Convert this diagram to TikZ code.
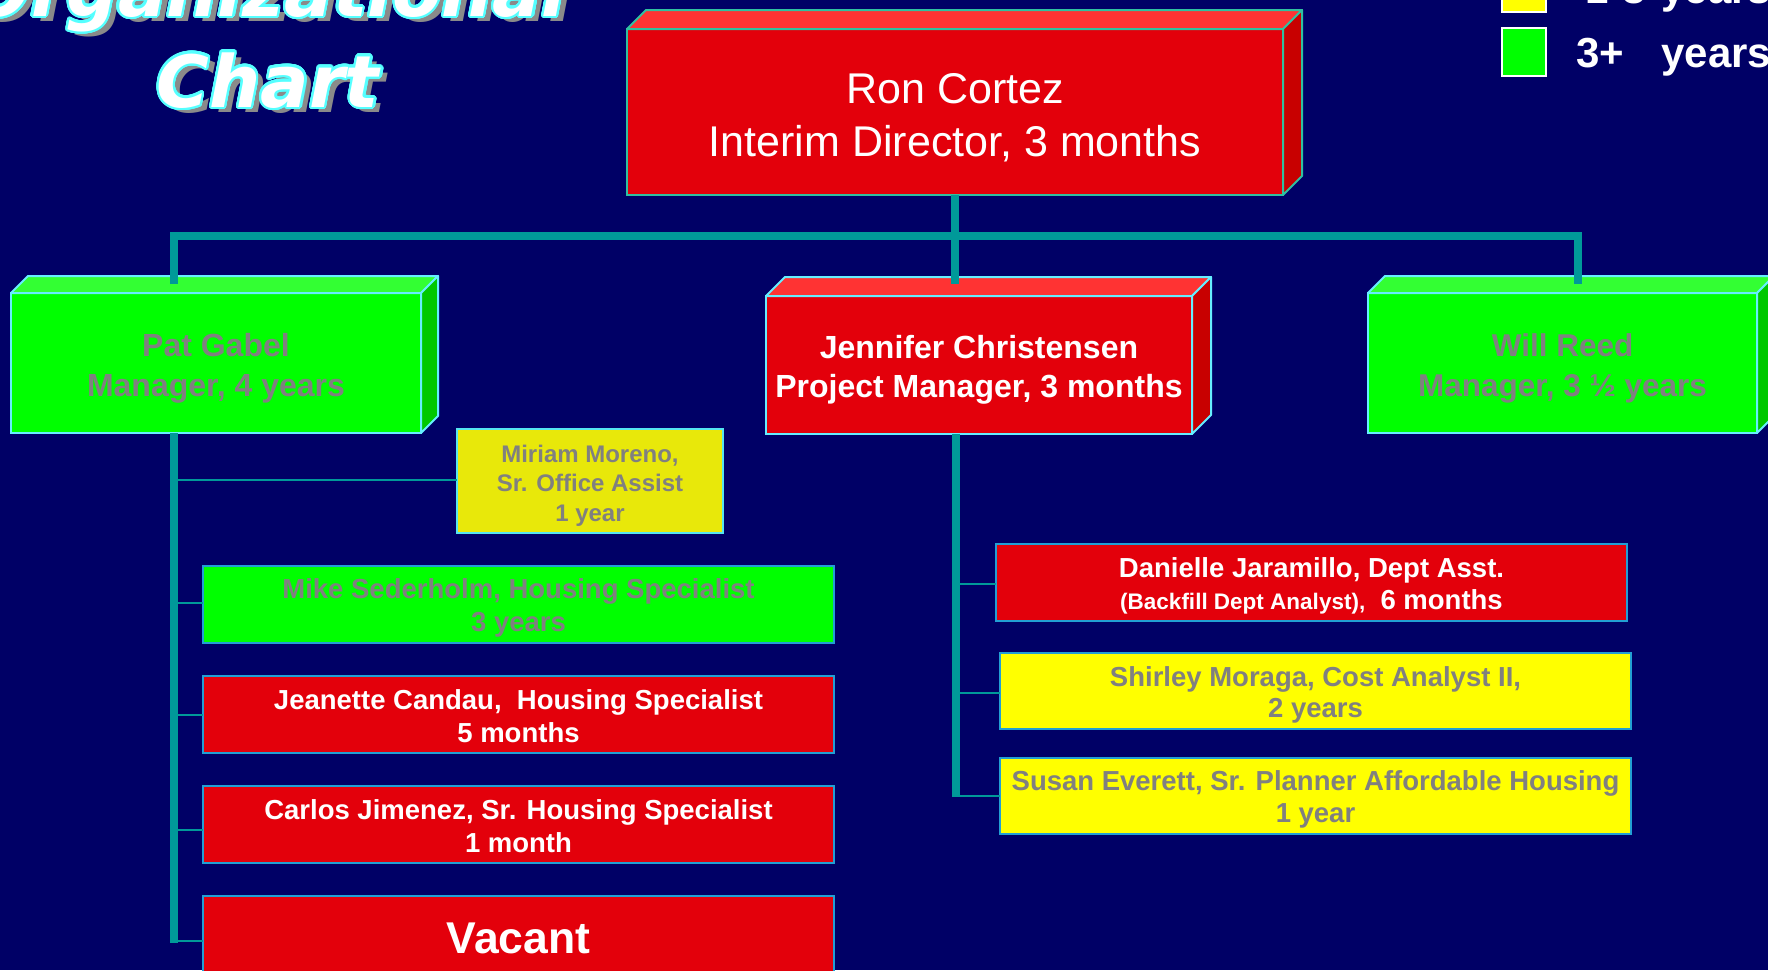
\documentclass[tikz,border=0pt]{standalone}
\usepackage{fontspec}
\setmainfont{Liberation Sans}
\newfontfamily\titlefont{DejaVu Sans}
\usepackage{contour}
\contourlength{2.2pt}
\contournumber{32}
\usetikzlibrary{calc}
\definecolor{bg}{HTML}{000066}
\definecolor{teal2}{HTML}{009999}
\definecolor{redfront}{HTML}{E3000B}
\definecolor{redtop}{HTML}{FF3333}
\definecolor{redside}{HTML}{C80000}
\definecolor{grnfront}{HTML}{00FF00}
\definecolor{grntop}{HTML}{33FF33}
\definecolor{grnside}{HTML}{00C800}
\definecolor{yelfront}{HTML}{FFFF00}
\definecolor{miryel}{HTML}{E8E80A}
\definecolor{ronborder}{HTML}{30C0A0}
\definecolor{cubeborder}{HTML}{66EEFF}
\definecolor{flatborder}{HTML}{229FD4}
\definecolor{mirborder}{HTML}{55E5F0}
\definecolor{greytext}{HTML}{808080}
\definecolor{titlecyan}{HTML}{55FFFF}
\definecolor{shadowgrey}{HTML}{8A8A8A}
\newcommand\fs[2]{\fontsize{#1}{#2}\selectfont}
\newcommand\cubefaces[5]{%
  \filldraw[fill=#2, draw=#4, line width=2pt, line join=round]
    (#1.north west) -- ++(#5,-#5) -- ($(#1.north east)+(#5,-#5)$) -- (#1.north east) -- cycle;
  \filldraw[fill=#3, draw=#4, line width=2pt, line join=round]
    (#1.north east) -- ++(#5,-#5) -- ($(#1.south east)+(#5,-#5)$) -- (#1.south east) -- cycle;
}
\tikzset{
  facebox/.style={rectangle, inner sep=0pt, outer sep=0pt, line width=2pt},
  flatbox/.style={rectangle, inner sep=0pt, outer sep=0pt, line width=2.5pt,
    draw=flatborder, minimum width=631, minimum height=77},
  lbl/.style={inner sep=0pt, align=center},
  trunk/.style={draw=teal2, line width=8pt},
  branch/.style={draw=teal2, line width=2.5pt},
  titletext/.style={anchor=base, font=\titlefont\bfseries\itshape\fs{72}{86}},
  legendtext/.style={anchor=base west, text=white, font=\bfseries\fs{42}{50}},
  legendbox/.style={draw=white, line width=1.5pt, inner sep=0pt, outer sep=0pt,
    minimum width=44, minimum height=48, anchor=north west},
}
\begin{document}
\begin{tikzpicture}[x=1pt,y=-1pt]
\fill[bg] (0,0) rectangle (1768,970);
\useasboundingbox (0,0) rectangle (1768,970);
\clip (0,0) rectangle (1768,970);

% title
\node[titletext, text=shadowgrey] (orgshadow) at (275,21) {Organizational};
\node[titletext, text=white] (org) at (268,16) {\contour{titlecyan}{Organizational}};
\node[titletext, text=shadowgrey] (chartshadow) at (275,112) {Chart};
\node[titletext, text=white] (chart) at (268,107) {\contour{titlecyan}{Chart}};

% legend
\node[legendbox, fill=yelfront] (legy) at (1502,-36) {};
\node[legendtext] (legytext) at (1573,3) {\makebox[85pt][l]{\hspace{9pt}1-3}years};
\node[legendbox, fill=grnfront] (legg) at (1502,28) {};
\node[legendtext] (leggtext) at (1573,67) {\makebox[85pt][l]{3+}years};

% top level
\node[facebox, fill=redfront, draw=ronborder, minimum width=656, minimum height=166] (ron) at (955,112) {};
\cubefaces{ron}{redtop}{redside}{ronborder}{19}
\node[lbl, text=white, font=\fs{43}{53}] (rontxt) at ($(ron.center)+(0,6)$) {Ron Cortez\\Interim Director, 3 months};

% managers
\node[facebox, fill=grnfront, draw=cubeborder, minimum width=410, minimum height=140] (pat) at (216,363) {};
\cubefaces{pat}{grntop}{grnside}{cubeborder}{17}
\node[lbl, text=greytext, font=\bfseries\fs{32}{40}] (pattxt) at ($(pat.center)+(0,5.5)$) {Pat Gabel\\Manager, 4 years};

\node[facebox, fill=redfront, draw=cubeborder, minimum width=426, minimum height=138] (jen) at (979,365) {};
\cubefaces{jen}{redtop}{redside}{cubeborder}{19}
\node[lbl, text=white, font=\bfseries\fs{32}{39}] (jentxt) at ($(jen.center)+(0,4.5)$) {Jennifer Christensen\\Project Manager, 3 months};

\node[facebox, fill=grnfront, draw=cubeborder, minimum width=389, minimum height=140] (will) at (1562.5,363) {};
\cubefaces{will}{grntop}{grnside}{cubeborder}{17}
\node[lbl, text=greytext, font=\bfseries\fs{31.5}{40}] (willtxt) at ($(will.center)+(0,5.5)$) {Will Reed\\Manager, 3 \char"00BD{} years};

% Pat's staff
\node[flatbox, fill=miryel, draw=mirborder, minimum width=266, minimum height=104] (miriam) at (590,481) {};
\node[lbl, text=greytext, font=\bfseries\fs{24}{29.5}] (miriamtxt) at ($(miriam.center)+(0,4.5)$) {Miriam Moreno,\\Sr. Office Assist\\1 year};
\node[flatbox, fill=grnfront] (mike) at (518.5,604.5) {};
\node[lbl, text=greytext, font=\bfseries\fs{27.5}{33}] (miketxt) at ($(mike.center)+(0,3)$) {Mike Sederholm, Housing Specialist\\3 years};
\node[flatbox, fill=redfront] (jeanette) at (518.5,714.5) {};
\node[lbl, text=white, font=\bfseries\fs{27.5}{33}] (jeanettetxt) at ($(jeanette.center)+(0,2)$) {Jeanette Candau,\ \ Housing Specialist\\5 months};
\node[flatbox, fill=redfront] (carlos) at (518.5,824.5) {};
\node[lbl, text=white, font=\bfseries\fs{27.5}{33}] (carlostxt) at ($(carlos.center)+(0,1.5)$) {Carlos Jimenez, Sr. Housing Specialist\\1 month};
\node[flatbox, fill=redfront, minimum height=82] (vacant) at (518.5,937) {};
\node[lbl, text=white, font=\bfseries\fs{44.5}{50}] (vacanttxt) at ($(vacant.center)+(0,1)$) {Vacant};

% Jennifer's staff
\node[flatbox, fill=redfront] (dan) at (1311.5,582.5) {};
\node[lbl, text=white, font=\bfseries\fs{27.5}{32}] (dantxt) at ($(dan.center)+(0,3)$)
  {Danielle Jaramillo, Dept Asst.\\{\fs{22.5}{27}(Backfill Dept Analyst),}\ \ 6 months};
\node[flatbox, fill=yelfront, minimum height=76] (shirley) at (1315.5,691) {};
\node[lbl, text=greytext, font=\bfseries\fs{27.5}{31}] (shirleytxt) at ($(shirley.center)+(0,3.5)$)
  {Shirley Moraga, Cost Analyst II,\\2 years};
\node[flatbox, fill=yelfront, minimum height=76] (susan) at (1315.5,796) {};
\node[lbl, text=greytext, font=\bfseries\fs{27.5}{32}] (susantxt) at ($(susan.center)+(0,3.5)$)
  {Susan Everett, Sr. Planner Affordable Housing\\1 year};

% connectors, top level
\coordinate (barL) at (174,236);
\coordinate (barR) at (1578,236);
\coordinate (pattop) at (174,284);
\coordinate (willtop) at (1578,284);
\draw[trunk] (pattop) -- (barL) -- (barR) -- (willtop);
\draw[trunk] (ron.south) -- (ron.south |- pattop);

% Pat's trunk
\coordinate (pb1) at (174,480);
\coordinate (pb2) at (174,603);
\coordinate (pb3) at (174,715);
\coordinate (pb4) at (174,830);
\coordinate (pb5) at (174,941);
\draw[trunk] (pat.south -| pb1) -- ($(pb5)+(0,2)$);
\draw[branch] (pb1) -- (pb1 -| miriam.west);
\draw[branch] (pb2) -- (pb2 -| mike.west);
\draw[branch] (pb3) -- (pb3 -| jeanette.west);
\draw[branch] (pb4) -- (pb4 -| carlos.west);
\draw[branch] (pb5) -- (pb5 -| vacant.west);

% Jennifer's trunk
\coordinate (jb1) at (955.5,584);
\coordinate (jb2) at (955.5,693);
\coordinate (jb3) at (955.5,796);
\draw[trunk] (jen.south -| jb1) -- ($(jb3)+(0,1)$);
\draw[branch] (jb1) -- (jb1 -| dan.west);
\draw[branch] (jb2) -- (jb2 -| shirley.west);
\draw[branch] (jb3) -- (jb3 -| susan.west);
\end{tikzpicture}
\end{document}
